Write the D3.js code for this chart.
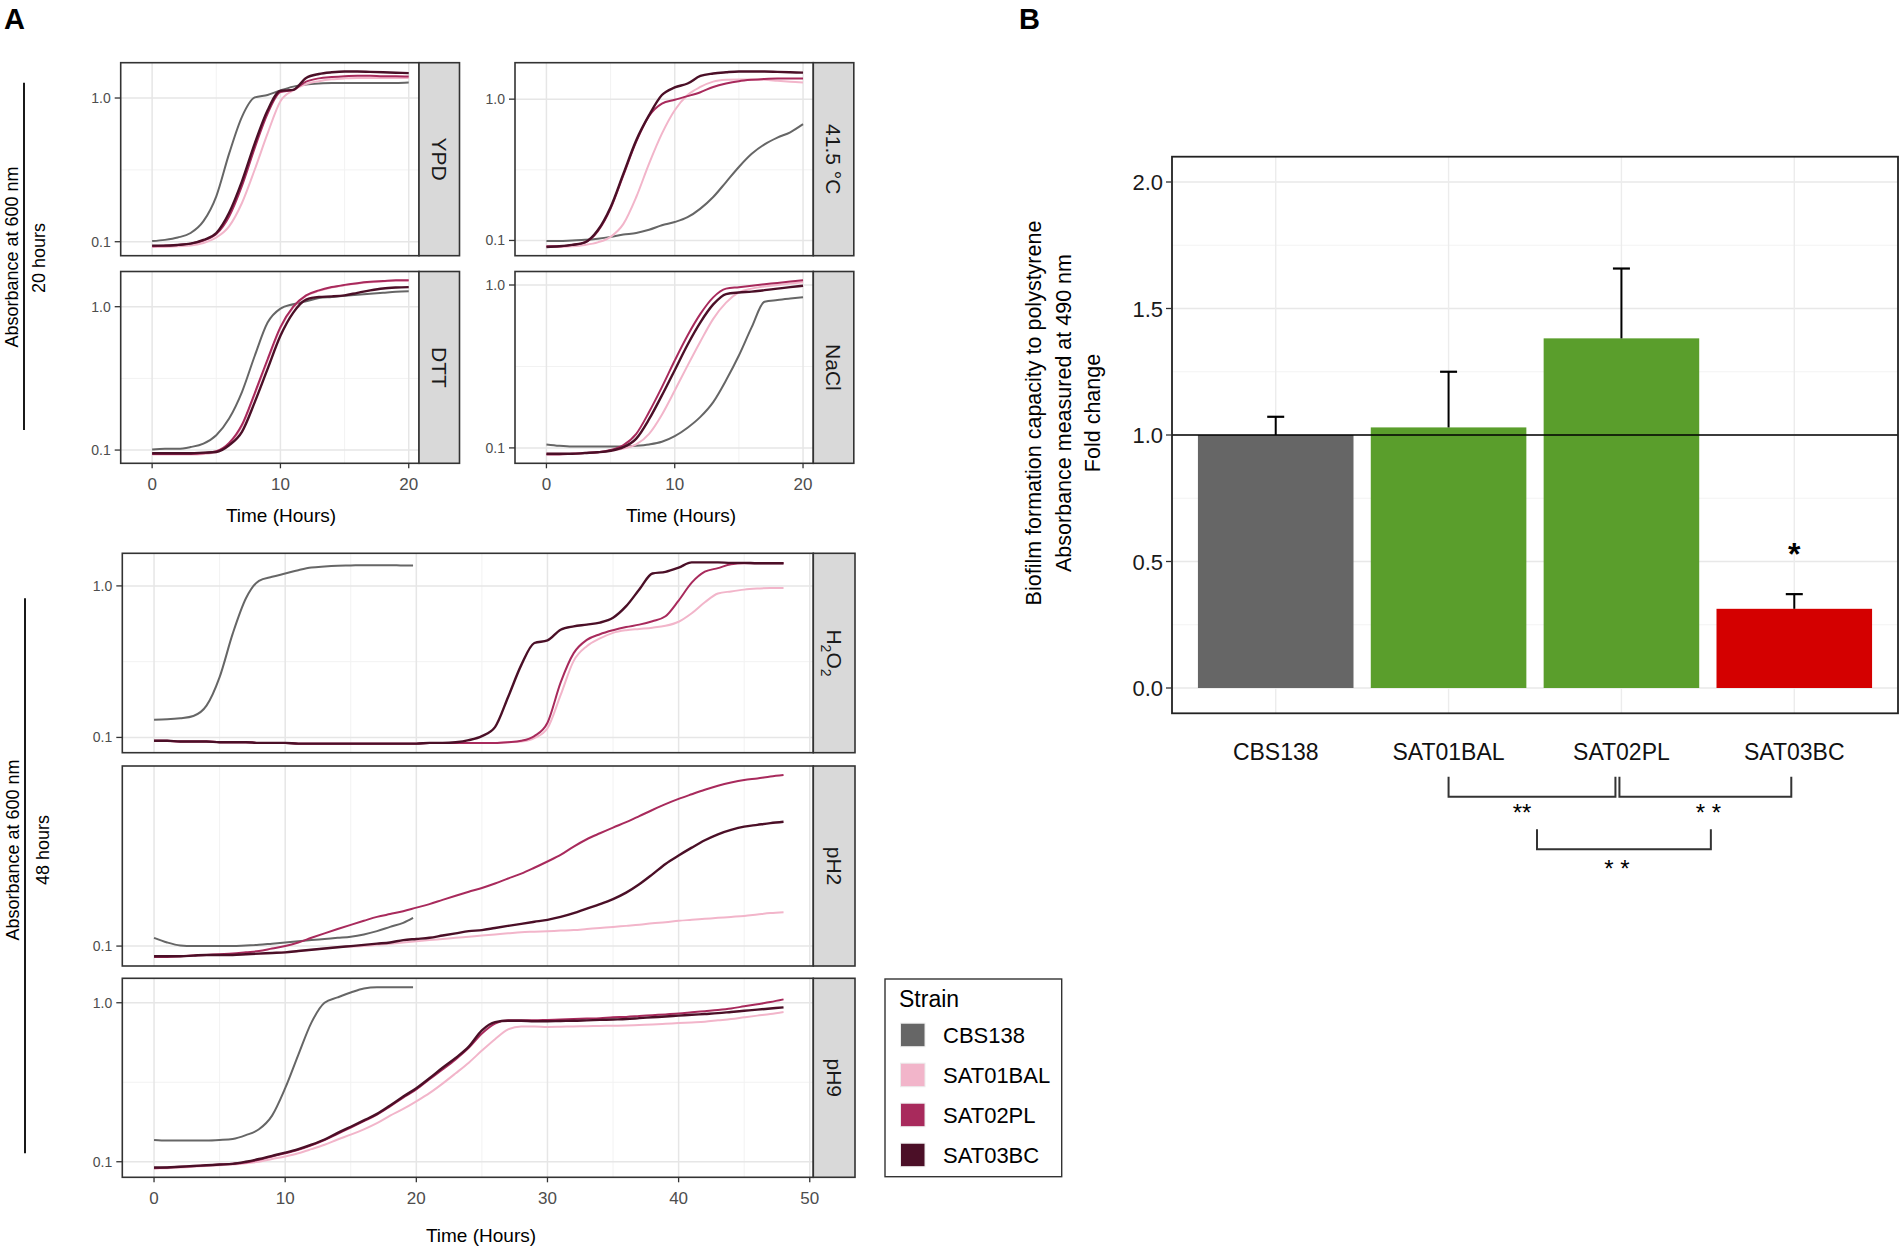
<!DOCTYPE html>
<html>
<head>
<meta charset="utf-8">
<script src="https://cdn.jsdelivr.net/npm/d3@7"></script>
<style>
body { margin: 0; background: #fff; }
svg { display: block; }
text { font-family: "Liberation Sans", Arial, sans-serif; }
</style>
</head>
<body>
<svg id="fig" width="1900" height="1251"></svg>
<script>
// ---- data : panel A (absorbance at 600 nm) ----
var strains = ['CBS138', 'SAT01BAL', 'SAT02PL', 'SAT03BC'];
var strainColors = ['#666666', '#f2b5ca', '#a82a5c', '#4b0f27'];

var hours20 = [0,1,2,3,4,5,6,7,8,9,10,11,12,13,14,15,16,17,18,19,20];
var hoursCBS = [0,1,2,3,4,5,6,7,8,9,10,11,12,13,14,15,16,17,18,19,19.75];
var hours48 = [0,1,2,3,4,5,6,7,8,9,10,11,12,13,14,15,16,17,18,19,20,21,22,23,24,
  25,26,27,28,29,30,31,32,33,34,35,36,37,38,39,40,41,42,43,44,45,46,47,48];

var ypdCBS138   = [0.101,0.103,0.107,0.115,0.139,0.207,0.41,0.74,1.01,1.05,1.13,1.20,1.24,1.26,1.27,1.27,1.27,1.27,1.27,1.27,1.28];
var ypdSAT01BAL = [0.092,0.092,0.093,0.094,0.098,0.107,0.128,0.186,0.318,0.567,0.95,1.13,1.25,1.31,1.35,1.37,1.38,1.38,1.38,1.38,1.38];
var ypdSAT02PL  = [0.093,0.094,0.095,0.097,0.102,0.113,0.150,0.245,0.45,0.78,1.10,1.14,1.30,1.37,1.40,1.42,1.43,1.43,1.42,1.42,1.41];
var ypdSAT03BC  = [0.094,0.094,0.095,0.097,0.103,0.115,0.159,0.263,0.483,0.822,1.12,1.14,1.38,1.47,1.51,1.53,1.53,1.52,1.51,1.50,1.49];

var heatCBS138   = [0.099,0.099,0.100,0.101,0.103,0.106,0.110,0.113,0.119,0.128,0.135,0.146,0.168,0.203,0.259,0.331,0.41,0.479,0.535,0.583,0.665];
var heatSAT01BAL = [0.090,0.090,0.091,0.093,0.097,0.106,0.131,0.203,0.35,0.57,0.835,1.07,1.22,1.33,1.37,1.38,1.38,1.37,1.35,1.33,1.31];
var heatSAT02PL  = [0.091,0.091,0.093,0.097,0.116,0.168,0.29,0.50,0.76,0.93,0.99,1.05,1.12,1.22,1.29,1.34,1.37,1.39,1.40,1.40,1.40];
var heatSAT03BC  = [0.090,0.091,0.093,0.097,0.118,0.172,0.297,0.512,0.77,1.07,1.21,1.29,1.46,1.52,1.55,1.57,1.57,1.57,1.56,1.55,1.54];

var dttCBS138   = [0.101,0.102,0.102,0.105,0.111,0.127,0.166,0.254,0.455,0.775,0.97,1.04,1.09,1.15,1.17,1.19,1.21,1.23,1.25,1.27,1.28];
var dttSAT01BAL = [0.093,0.093,0.093,0.093,0.094,0.097,0.110,0.147,0.245,0.42,0.71,0.99,1.19,1.29,1.36,1.41,1.45,1.48,1.50,1.52,1.52];
var dttSAT02PL  = [0.094,0.094,0.094,0.094,0.095,0.098,0.112,0.150,0.25,0.43,0.72,1.00,1.20,1.30,1.37,1.42,1.46,1.49,1.51,1.53,1.53];
var dttSAT03BC  = [0.095,0.095,0.095,0.095,0.096,0.097,0.108,0.134,0.216,0.368,0.626,0.909,1.12,1.17,1.18,1.20,1.25,1.30,1.34,1.36,1.37];

var naclCBS138   = [0.105,0.103,0.102,0.102,0.102,0.102,0.102,0.103,0.105,0.109,0.118,0.133,0.155,0.191,0.260,0.369,0.551,0.79,0.809,0.825,0.84];
var naclSAT01BAL = [0.092,0.092,0.092,0.093,0.094,0.096,0.099,0.105,0.122,0.16,0.225,0.32,0.45,0.62,0.78,0.90,0.95,0.98,1.00,1.02,1.04];
var naclSAT02PL  = [0.091,0.091,0.092,0.093,0.094,0.097,0.104,0.122,0.166,0.236,0.344,0.49,0.665,0.84,0.95,0.97,0.99,1.01,1.03,1.05,1.07];
var naclSAT03BC  = [0.092,0.092,0.092,0.093,0.094,0.096,0.101,0.114,0.150,0.21,0.30,0.43,0.59,0.76,0.88,0.90,0.91,0.93,0.95,0.97,0.99];

var h2o2CBS138   = [0.131,0.1316,0.1337,0.1385,0.162,0.25,0.484,0.825,1.08,1.148,1.207,1.27,1.323,1.344,1.358,1.364,1.371,1.371,1.371,1.364,1.364];
var h2o2SAT01BAL = [0.095,0.095,0.094,0.094,0.094,0.093,0.093,0.093,0.092,0.092,0.092,0.091,0.091,0.091,0.091,0.091,0.091,0.091,0.091,0.091,
  0.091,0.092,0.092,0.092,0.092,0.092,0.092,0.093,0.094,0.099,0.115,0.19,0.32,0.40,0.45,0.49,0.51,0.52,0.53,0.545,
  0.58,0.66,0.78,0.89,0.92,0.945,0.96,0.97,0.97];
var h2o2SAT02PL  = [0.095,0.095,0.094,0.094,0.094,0.093,0.093,0.093,0.092,0.092,0.092,0.091,0.091,0.091,0.091,0.091,0.091,0.091,0.091,0.091,
  0.091,0.092,0.092,0.092,0.092,0.092,0.092,0.093,0.095,0.102,0.125,0.23,0.36,0.44,0.48,0.51,0.535,0.555,0.585,0.63,
  0.80,1.05,1.24,1.31,1.39,1.41,1.41,1.41,1.41];
var h2o2SAT03BC  = [0.095,0.095,0.094,0.094,0.094,0.093,0.093,0.093,0.092,0.092,0.092,0.091,0.091,0.091,0.091,0.091,0.091,0.091,0.091,0.091,
  0.091,0.092,0.092,0.093,0.096,0.102,0.117,0.185,0.30,0.42,0.437,0.514,0.541,0.555,0.573,0.617,0.735,0.947,1.208,1.238,
  1.32,1.43,1.43,1.43,1.42,1.42,1.41,1.41,1.41];

var ph2CBS138   = [0.107,0.103,0.1005,0.1,0.1,0.1,0.1,0.1005,0.101,0.102,0.103,0.104,0.105,0.106,0.107,0.108,0.110,0.113,0.117,0.121,0.126];
var ph2SAT01BAL = [0.092,0.092,0.092,0.0925,0.093,0.093,0.093,0.0935,0.094,0.0945,0.095,0.096,0.097,0.098,0.099,0.0995,0.100,0.101,0.102,0.103,
  0.104,0.105,0.106,0.107,0.108,0.109,0.110,0.111,0.112,0.1125,0.113,0.1135,0.114,0.115,0.116,0.117,0.118,0.119,0.1205,0.1215,
  0.123,0.124,0.125,0.126,0.127,0.128,0.1295,0.131,0.132];
var ph2SAT02PL  = [0.0915,0.0915,0.092,0.0925,0.093,0.0935,0.094,0.095,0.096,0.098,0.100,0.103,0.107,0.111,0.115,0.119,0.123,0.127,0.130,0.133,
  0.137,0.141,0.146,0.151,0.156,0.161,0.167,0.174,0.181,0.190,0.200,0.211,0.226,0.240,0.252,0.264,0.276,0.290,0.305,0.320,
  0.334,0.347,0.360,0.372,0.382,0.390,0.395,0.401,0.406];
var ph2SAT03BC  = [0.092,0.092,0.092,0.0925,0.093,0.093,0.093,0.0935,0.094,0.0945,0.095,0.096,0.097,0.098,0.099,0.100,0.101,0.102,0.103,0.105,
  0.106,0.107,0.109,0.111,0.113,0.114,0.116,0.118,0.120,0.122,0.124,0.127,0.131,0.136,0.141,0.147,0.155,0.166,0.180,0.196,
  0.210,0.224,0.238,0.250,0.259,0.266,0.270,0.274,0.277];

var ph9CBS138   = [0.137,0.136,0.136,0.136,0.136,0.137,0.139,0.147,0.160,0.195,0.29,0.47,0.75,1.00,1.08,1.16,1.23,1.25,1.25,1.25,1.25];
var ph9SAT01BAL = [0.091,0.091,0.092,0.093,0.094,0.095,0.096,0.098,0.100,0.104,0.108,0.113,0.120,0.128,0.138,0.148,0.160,0.175,0.195,0.215,
  0.24,0.27,0.31,0.36,0.42,0.50,0.59,0.68,0.71,0.71,0.705,0.707,0.71,0.712,0.715,0.717,0.72,0.725,0.73,0.737,
  0.745,0.752,0.76,0.775,0.79,0.81,0.83,0.85,0.875];
var ph9SAT02PL  = [0.091,0.092,0.093,0.094,0.095,0.096,0.097,0.099,0.103,0.108,0.113,0.119,0.127,0.137,0.150,0.164,0.180,0.198,0.223,0.253,
  0.285,0.33,0.38,0.44,0.52,0.64,0.74,0.775,0.775,0.775,0.78,0.785,0.79,0.795,0.80,0.81,0.815,0.825,0.835,0.845,
  0.855,0.87,0.885,0.90,0.92,0.95,0.98,1.01,1.05];
var ph9SAT03BC  = [0.092,0.092,0.093,0.094,0.095,0.096,0.097,0.100,0.104,0.109,0.114,0.120,0.128,0.138,0.152,0.166,0.182,0.200,0.226,0.257,
  0.29,0.335,0.39,0.45,0.53,0.67,0.755,0.77,0.77,0.765,0.765,0.768,0.77,0.775,0.78,0.785,0.79,0.80,0.81,0.82,
  0.83,0.84,0.85,0.86,0.875,0.89,0.905,0.92,0.935];

var logTicks = [0.1, 1.0];

// ---- data : panel B (biofilm fold change) ----
var bStrains = ['CBS138', 'SAT01BAL', 'SAT02PL', 'SAT03BC'];
var bFold = [1.0, 1.03, 1.382, 0.313];
var bSD = [0.072, 0.22, 0.276, 0.058];
var bColors = ['#666666', '#5a9e2c', '#5a9e2c', '#d40000'];
var bTicks = [0, 0.5, 1.0, 1.5, 2.0];
var bMinor = [0.25, 0.75, 1.25, 1.75];

var svg = d3.select('#fig');
svg.append('rect').attr('width', 1900).attr('height', 1251).attr('fill', '#fff');

function label(g, x, y, str, size, o) {
  o = o || {};
  var t = g.append('text').attr('x', x).attr('y', y)
    .attr('font-size', size)
    .attr('text-anchor', o.anchor || 'start')
    .attr('fill', o.fill || '#000');
  if (o.rotate) t.attr('transform', 'rotate(' + o.rotate + ',' + x + ',' + y + ')');
  if (o.weight) t.attr('font-weight', o.weight);
  if (o.family) t.attr('font-family', o.family);
  if (o.dy) t.attr('dy', o.dy);
  t.text(str);
  return t;
}

// panel layout
var topXL = [120.7, 419], topXR = [515, 813.3], botX = [122.3, 813.3];
var panels = [
  {strip: 'YPD', xr: topXL, yr: [62.7, 255.7], dom: [-2.45, 20.8], xt: [0, 10, 20], xm: [5, 15],
   hours: hours20, cbs: hours20, data: [ypdCBS138, ypdSAT01BAL, ypdSAT02PL, ypdSAT03BC]},
  {strip: '41.5 °C', xr: topXR, yr: [62.7, 255.7], dom: [-2.45, 20.8], xt: [0, 10, 20], xm: [5, 15],
   hours: hours20, cbs: hours20, data: [heatCBS138, heatSAT01BAL, heatSAT02PL, heatSAT03BC]},
  {strip: 'DTT', xr: topXL, yr: [271.5, 463.3], dom: [-2.45, 20.8], xt: [0, 10, 20], xm: [5, 15], axis: true,
   hours: hours20, cbs: hours20, data: [dttCBS138, dttSAT01BAL, dttSAT02PL, dttSAT03BC]},
  {strip: 'NaCl', xr: topXR, yr: [271.5, 463.3], dom: [-2.45, 20.8], xt: [0, 10, 20], xm: [5, 15], axis: true,
   hours: hours20, cbs: hours20, data: [naclCBS138, naclSAT01BAL, naclSAT02PL, naclSAT03BC]},
  {strip: 'H2O2', xr: botX, yr: [553.3, 752.7], dom: [-2.42, 50.27], xt: [0, 10, 20, 30, 40, 50], xm: [5, 15, 25, 35, 45],
   hours: hours48, cbs: hoursCBS, data: [h2o2CBS138, h2o2SAT01BAL, h2o2SAT02PL, h2o2SAT03BC]},
  {strip: 'pH2', xr: botX, yr: [766, 966], dom: [-2.42, 50.27], xt: [0, 10, 20, 30, 40, 50], xm: [5, 15, 25, 35, 45],
   hours: hours48, cbs: hoursCBS, data: [ph2CBS138, ph2SAT01BAL, ph2SAT02PL, ph2SAT03BC]},
  {strip: 'pH9', xr: botX, yr: [978.3, 1177.3], dom: [-2.42, 50.27], xt: [0, 10, 20, 30, 40, 50], xm: [5, 15, 25, 35, 45], axis: true,
   hours: hours48, cbs: hoursCBS, data: [ph9CBS138, ph9SAT01BAL, ph9SAT02PL, ph9SAT03BC]}
];

panels.forEach(function(p) {
  var g = svg.append('g');
  var x0 = p.xr[0], x1 = p.xr[1], y0 = p.yr[0], y1 = p.yr[1];
  var all = [].concat.apply([], p.data);
  var lo = Math.log10(d3.min(all)), hi = Math.log10(d3.max(all)), pad = (hi - lo) * 0.05;
  var x = d3.scaleLinear().domain(p.dom).range([x0, x1]);
  var y = d3.scaleLog().domain([Math.pow(10, lo - pad), Math.pow(10, hi + pad)]).range([y1, y0]);
  var yt = logTicks.filter(function(v) { return v >= y.domain()[0] && v <= y.domain()[1]; });

  g.append('rect').attr('x', x0).attr('y', y0).attr('width', x1 - x0).attr('height', y1 - y0).attr('fill', '#fff');
  // minor grid
  g.selectAll('.xm').data(p.xm).enter().append('line')
    .attr('x1', function(d) { return x(d); }).attr('x2', function(d) { return x(d); })
    .attr('y1', y0).attr('y2', y1).attr('stroke', '#f2f2f2').attr('stroke-width', 1);
  if (yt.length > 1) {
    var ym = Math.sqrt(yt[0] * yt[1]);
    g.append('line').attr('x1', x0).attr('x2', x1).attr('y1', y(ym)).attr('y2', y(ym))
      .attr('stroke', '#f2f2f2').attr('stroke-width', 1);
  }
  // major grid
  g.selectAll('.xg').data(p.xt.filter(function(d) { return x(d) < x1; })).enter().append('line')
    .attr('x1', function(d) { return x(d); }).attr('x2', function(d) { return x(d); })
    .attr('y1', y0).attr('y2', y1).attr('stroke', '#e6e6e6').attr('stroke-width', 1.5);
  g.selectAll('.yg').data(yt).enter().append('line')
    .attr('x1', x0).attr('x2', x1).attr('y1', function(d) { return y(d); }).attr('y2', function(d) { return y(d); })
    .attr('stroke', '#e6e6e6').attr('stroke-width', 1.5);

  // growth curves
  var line = d3.line().curve(d3.curveMonotoneX)
    .x(function(d) { return x(d[0]); }).y(function(d) { return y(d[1]); });
  p.data.forEach(function(vals, i) {
    var hrs = i === 0 ? p.cbs : p.hours;
    g.append('path').datum(hrs.map(function(h, k) { return [h, vals[k]]; }))
      .attr('d', line).attr('fill', 'none')
      .attr('stroke', strainColors[i]).attr('stroke-width', i === 3 ? 2.4 : 2);
  });

  // border and strip
  g.append('rect').attr('x', x0).attr('y', y0).attr('width', x1 - x0).attr('height', y1 - y0)
    .attr('fill', 'none').attr('stroke', '#333').attr('stroke-width', 1.6);
  var sw = p.xr === botX ? 41.7 : 40.5;
  g.append('rect').attr('x', x1).attr('y', y0).attr('width', sw).attr('height', y1 - y0)
    .attr('fill', '#d9d9d9').attr('stroke', '#333').attr('stroke-width', 1.6);
  var cx = x1 + sw / 2, cy = (y0 + y1) / 2;
  if (p.strip === 'H2O2') {
    var st = g.append('text').attr('x', cx).attr('y', cy).attr('font-size', 21).attr('fill', '#1a1a1a')
      .attr('text-anchor', 'middle').attr('dy', '0.35em')
      .attr('transform', 'rotate(90,' + cx + ',' + cy + ')');
    st.append('tspan').text('H');
    st.append('tspan').attr('dy', 6).attr('font-size', 14).text('2');
    st.append('tspan').attr('dy', -6).text('O');
    st.append('tspan').attr('dy', 6).attr('font-size', 14).text('2');
  } else {
    label(g, cx, cy, p.strip, 21, {anchor: 'middle', rotate: 90, dy: '0.35em', fill: '#1a1a1a'});
  }

  // y axis
  yt.forEach(function(v) {
    g.append('line').attr('x1', x0 - 6).attr('x2', x0).attr('y1', y(v)).attr('y2', y(v))
      .attr('stroke', '#333').attr('stroke-width', 1.3);
    label(g, x0 - 10, y(v) + 5, d3.format('.1f')(v), 14, {anchor: 'end', fill: '#4d4d4d'});
  });
  // x axis
  if (p.axis) {
    p.xt.forEach(function(v) {
      g.append('line').attr('x1', x(v)).attr('x2', x(v)).attr('y1', y1).attr('y2', y1 + 5)
        .attr('stroke', '#333').attr('stroke-width', 1.3);
      label(g, x(v), y1 + 27, String(v), 17, {anchor: 'middle', fill: '#4d4d4d'});
    });
  }
});

// axis titles panel A
label(svg, 281, 522, 'Time (Hours)', 19, {anchor: 'middle'});
label(svg, 681, 522, 'Time (Hours)', 19, {anchor: 'middle'});
label(svg, 481, 1242, 'Time (Hours)', 19, {anchor: 'middle'});

svg.append('line').attr('x1', 24).attr('x2', 24).attr('y1', 82.7).attr('y2', 430).attr('stroke', '#000').attr('stroke-width', 1.8);
svg.append('line').attr('x1', 25).attr('x2', 25).attr('y1', 598.3).attr('y2', 1153.3).attr('stroke', '#000').attr('stroke-width', 1.8);
label(svg, 11.5, 257, 'Absorbance at 600 nm', 18, {anchor: 'middle', rotate: -90, dy: '0.35em'});
label(svg, 38.5, 258, '20 hours', 18, {anchor: 'middle', rotate: -90, dy: '0.35em'});
label(svg, 12.5, 850, 'Absorbance at 600 nm', 18, {anchor: 'middle', rotate: -90, dy: '0.35em'});
label(svg, 43, 850, '48 hours', 18, {anchor: 'middle', rotate: -90, dy: '0.35em'});

// legend
var lg = svg.append('g');
lg.append('rect').attr('x', 885).attr('y', 979).attr('width', 176.7).attr('height', 197.7)
  .attr('fill', '#fff').attr('stroke', '#333').attr('stroke-width', 1.4);
label(lg, 899, 1007, 'Strain', 23);
strains.forEach(function(s, i) {
  var cy = 1035 + i * 40;
  lg.append('rect').attr('x', 900.5).attr('y', cy - 11.8).attr('width', 24.5).attr('height', 23.5)
    .attr('fill', strainColors[i]).attr('stroke', '#ececec').attr('stroke-width', 1);
  label(lg, 943, cy + 8, s, 22);
});

// panel letters
label(svg, 4, 29, 'A', 29, {weight: 'bold'});
label(svg, 1019, 29, 'B', 29, {weight: 'bold'});

// ---- panel B ----
var gb = svg.append('g');
var bx = d3.scalePoint().domain(bStrains).range([1172, 1898]).padding(0.6);
var by = d3.scaleLinear().domain([-0.1, 2.1]).range([713.3, 156.7]);
var bw = bx.step() * 0.9;

gb.append('rect').attr('x', 1172).attr('y', 156.7).attr('width', 726).attr('height', 556.6).attr('fill', '#fff');
gb.selectAll('.bm').data(bMinor).enter().append('line')
  .attr('x1', 1172).attr('x2', 1898).attr('y1', function(d) { return by(d); }).attr('y2', function(d) { return by(d); })
  .attr('stroke', '#f3f3f3').attr('stroke-width', 1.2);
gb.selectAll('.bg').data(bTicks).enter().append('line')
  .attr('x1', 1172).attr('x2', 1898).attr('y1', function(d) { return by(d); }).attr('y2', function(d) { return by(d); })
  .attr('stroke', '#e8e8e8').attr('stroke-width', 1.6);
gb.selectAll('.bxg').data(bStrains).enter().append('line')
  .attr('x1', function(d) { return bx(d); }).attr('x2', function(d) { return bx(d); })
  .attr('y1', 156.7).attr('y2', 713.3).attr('stroke', '#ececec').attr('stroke-width', 1.4);

gb.selectAll('.bar').data(bStrains).enter().append('rect')
  .attr('x', function(d) { return bx(d) - bw / 2; })
  .attr('y', function(d, i) { return by(bFold[i]); })
  .attr('width', bw)
  .attr('height', function(d, i) { return by(0) - by(bFold[i]); })
  .attr('fill', function(d, i) { return bColors[i]; });

// error bars (upper only)
bStrains.forEach(function(s, i) {
  var cx = bx(s), top = by(bFold[i] + bSD[i]);
  gb.append('line').attr('x1', cx).attr('x2', cx).attr('y1', by(bFold[i])).attr('y2', top)
    .attr('stroke', '#000').attr('stroke-width', 2);
  gb.append('line').attr('x1', cx - 8.5).attr('x2', cx + 8.5).attr('y1', top).attr('y2', top)
    .attr('stroke', '#000').attr('stroke-width', 2.2);
});

// reference line at fold change 1
gb.append('line').attr('x1', 1172).attr('x2', 1898).attr('y1', by(1)).attr('y2', by(1))
  .attr('stroke', '#000').attr('stroke-width', 1.6);
gb.append('rect').attr('x', 1172).attr('y', 156.7).attr('width', 726).attr('height', 556.6)
  .attr('fill', 'none').attr('stroke', '#222').attr('stroke-width', 1.8);

bTicks.forEach(function(v) {
  gb.append('line').attr('x1', 1166).attr('x2', 1172).attr('y1', by(v)).attr('y2', by(v))
    .attr('stroke', '#333').attr('stroke-width', 1.3);
  label(gb, 1163, by(v) + 8, d3.format('.1f')(v), 22, {anchor: 'end', family: '"DejaVu Sans", sans-serif', fill: '#1a1a1a'});
});
bStrains.forEach(function(s) {
  label(gb, bx(s), 760, s, 23, {anchor: 'middle', fill: '#111'});
});
label(gb, 1033, 413, 'Biofilm formation capacity to polystyrene', 21.5, {anchor: 'middle', rotate: -90, dy: '0.35em'});
label(gb, 1063, 413, 'Absorbance measured at 490 nm', 21.5, {anchor: 'middle', rotate: -90, dy: '0.35em'});
label(gb, 1092, 413, 'Fold change', 21.5, {anchor: 'middle', rotate: -90, dy: '0.35em'});

// significance marks
label(gb, bx('SAT03BC'), by(bFold[3] + bSD[3]) - 29, '*', 32, {anchor: 'middle', weight: 'bold', family: '"DejaVu Sans", sans-serif'});

var brackets = [
  {a: bx('SAT01BAL'), b: bx('SAT02PL') - 6, top: 776.7, bot: 796.7, text: '**', tx: 1522, ty: 821},
  {a: bx('SAT02PL') - 2, b: bx('SAT03BC') - 3, top: 776.7, bot: 796.7, text: '* *', tx: 1708.5, ty: 821},
  {a: (bx('SAT01BAL') + bx('SAT02PL')) / 2 + 2, b: (bx('SAT02PL') + bx('SAT03BC')) / 2 + 3, top: 829.3, bot: 849.3, text: '* *', tx: 1617, ty: 877}
];
brackets.forEach(function(k) {
  gb.append('path').attr('d', 'M' + k.a + ',' + k.top + 'V' + k.bot + 'H' + k.b + 'V' + k.top)
    .attr('fill', 'none').attr('stroke', '#333').attr('stroke-width', 2);
  label(gb, k.tx, k.ty, k.text, 24, {anchor: 'middle', family: '"DejaVu Sans", sans-serif'});
});
</script>
</body>
</html>
